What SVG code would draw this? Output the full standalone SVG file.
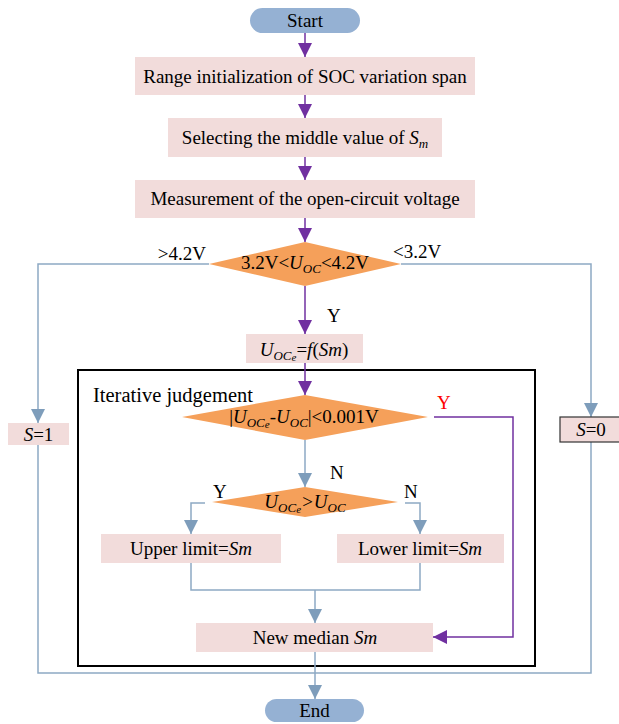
<svg xmlns="http://www.w3.org/2000/svg" width="619" height="724" viewBox="0 0 619 724">
<style>
text{font-family:"Liberation Serif","Times New Roman",serif;font-size:19px;fill:#000;}
.c{text-anchor:middle;}
.i{font-style:italic;}
.box{fill:#F2DCDB;}
.term{fill:#95B1D3;}
.dia{fill:#F5A05A;}
.pl{fill:none;stroke:#7030A0;stroke-width:1.5;}
.bl{fill:none;stroke:#8DA9C4;stroke-width:1.5;}
</style>
<defs>
<marker id="ap" markerUnits="userSpaceOnUse" markerWidth="14" markerHeight="14" refX="14" refY="7" orient="auto" viewBox="0 0 14 14">
<path d="M0,0 L14,7 L0,14 z" fill="#7030A0"/>
</marker>
<marker id="ab" markerUnits="userSpaceOnUse" markerWidth="14" markerHeight="14" refX="14" refY="7" orient="auto" viewBox="0 0 14 14">
<path d="M0,0 L14,7 L0,14 z" fill="#7E9DBB"/>
</marker>
</defs>

<g id="frame">
<rect x="78" y="370" width="457" height="296" fill="none" stroke="#000" stroke-width="2"/>
<text x="93" y="402" font-size="20.5" style="font-size:20.5px">Iterative judgement</text>
</g>

<g id="connectors">
<path class="pl" d="M305,33 V57" marker-end="url(#ap)"/>
<path class="pl" d="M305,95 V118" marker-end="url(#ap)"/>
<path class="pl" d="M305,157 V180" marker-end="url(#ap)"/>
<path class="pl" d="M305,218 V242" marker-end="url(#ap)"/>
<path class="pl" d="M305,286 V334" marker-end="url(#ap)"/>
<path class="pl" d="M305,363 V395" marker-end="url(#ap)"/>
<path class="pl" d="M434,417 H513 V637 H433" marker-end="url(#ap)"/>
<path class="bl" d="M305,440 V487" marker-end="url(#ab)"/>
<path class="bl" d="M205,503 H191 V534" marker-end="url(#ab)"/>
<path class="bl" d="M405,503 H420 V534" marker-end="url(#ab)"/>
<path class="bl" d="M191,563 V590 H420 V563"/>
<path class="bl" d="M315,590 V623" marker-end="url(#ab)"/>
<path class="bl" d="M315,652 V699" marker-end="url(#ab)"/>
<path class="bl" d="M209,264 H38 V423" marker-end="url(#ab)"/>
<path class="bl" d="M401,264 H591 V417" marker-end="url(#ab)"/>
<path class="bl" d="M38,445 V673 H591 V442"/>
<text x="206" y="260" text-anchor="end">&gt;4.2V</text>
<text x="393" y="258">&lt;3.2V</text>
<text x="327" y="322">Y</text>
<text x="437" y="409" fill="#FF0000" style="fill:#FF0000">Y</text>
<text x="330" y="479">N</text>
<text x="213" y="498">Y</text>
<text x="404" y="498">N</text>
</g>

<g id="start">
<rect class="term" x="250" y="8" width="110" height="25" rx="12.5"/>
<text class="c" x="305" y="27">Start</text>
</g>

<g id="init">
<rect class="box" x="135" y="57" width="340" height="38"/>
<text class="c" x="305" y="83">Range initialization of SOC variation span</text>
</g>

<g id="select">
<rect class="box" x="168" y="118" width="274" height="39"/>
<text class="c" x="305" y="144">Selecting the middle value of <tspan class="i">S</tspan><tspan class="i" font-size="13" dy="4">m</tspan></text>
</g>

<g id="measure">
<rect class="box" x="135" y="180" width="340" height="38"/>
<text class="c" x="305" y="205">Measurement of the open-circuit voltage</text>
</g>

<g id="range">
<polygon class="dia" points="209,264 305,242 401,264 305,286"/>
<text class="c" x="305" y="269">3.2V&lt;<tspan class="i">U</tspan><tspan class="i" font-size="13" dy="4">OC</tspan><tspan dy="-4">&lt;4.2V</tspan></text>
</g>

<g id="uoce">
<rect class="box" x="246" y="334" width="117" height="29"/>
<text class="c" x="304" y="356"><tspan class="i">U</tspan><tspan class="i" font-size="13" dy="4">OC</tspan><tspan class="i" font-size="11" dy="1">e</tspan><tspan dy="-5">=</tspan><tspan class="i">f</tspan>(<tspan class="i">Sm</tspan>)</text>
</g>

<g id="check">
<polygon class="dia" points="182,417 305,395 428,417 305,440"/>
<text class="c" x="304" y="423">|<tspan class="i">U</tspan><tspan class="i" font-size="13" dy="4">OC</tspan><tspan class="i" font-size="11" dy="1">e</tspan><tspan dy="-5">-</tspan><tspan class="i">U</tspan><tspan class="i" font-size="13" dy="4">OC</tspan><tspan dy="-4">|&lt;0.001V</tspan></text>
</g>

<g id="compare">
<polygon class="dia" points="212,502 305,487 398,502 305,517"/>
<text class="c i" x="305" y="508">U<tspan font-size="13" dy="4">OC</tspan><tspan font-size="11" dy="1">e</tspan><tspan dy="-5">&gt;U</tspan><tspan font-size="13" dy="4">OC</tspan></text>
</g>

<g id="upper">
<rect class="box" x="101" y="534" width="180" height="29"/>
<text class="c" x="191" y="555">Upper limit=<tspan class="i">Sm</tspan></text>
</g>

<g id="lower">
<rect class="box" x="337" y="534" width="167" height="29"/>
<text class="c" x="420" y="555">Lower limit=<tspan class="i">Sm</tspan></text>
</g>

<g id="median">
<rect class="box" x="196" y="623" width="237" height="29"/>
<text class="c" x="315" y="644">New median <tspan class="i">Sm</tspan></text>
</g>

<g id="s1">
<rect class="box" x="8" y="423" width="61" height="22"/>
<text class="c" x="38.5" y="441"><tspan class="i">S</tspan>=1</text>
</g>

<g id="s0">
<rect class="box" x="560" y="417" width="62" height="25" stroke="#333" stroke-width="1.2"/>
<text class="c" x="591" y="436"><tspan class="i">S</tspan>=0</text>
</g>

<g id="end">
<rect class="term" x="265" y="699" width="99" height="23" rx="11.5"/>
<text class="c" x="314.5" y="717">End</text>
</g>
</svg>
